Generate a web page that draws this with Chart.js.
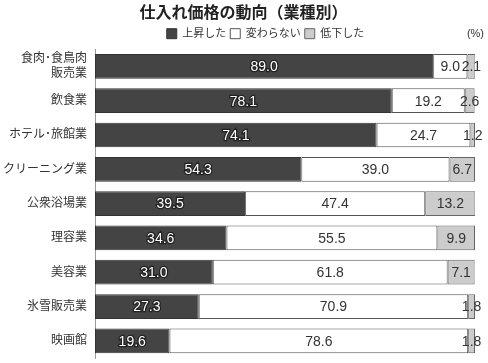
<!DOCTYPE html>
<html>
<head>
<meta charset="utf-8">
<script src="https://cdn.jsdelivr.net/npm/chart.js@4"></script>
<style>
  body { margin: 0; background: #fff; }
  #wrap { width: 488px; height: 363px; }
</style>
</head>
<body>
<div id="wrap"><canvas id="chart" width="488" height="363"></canvas></div>
<script>
const categories = [['食肉･食鳥肉', '販売業'], '飲食業', 'ホテル･旅館業', 'クリーニング業', '公衆浴場業', '理容業', '美容業', '氷雪販売業', '映画館'];
const seriesNames = ['上昇した', '変わらない', '低下した'];
const rose = [89.0, 78.1, 74.1, 54.3, 39.5, 34.6, 31.0, 27.3, 19.6];
const same = [9.0, 19.2, 24.7, 39.0, 47.4, 55.5, 61.8, 70.9, 78.6];
const fell = [2.1, 2.6, 1.2, 6.7, 13.2, 9.9, 7.1, 1.8, 1.8];

const FONT = "'Liberation Sans', 'Noto Sans CJK JP', sans-serif";

// numbers written in the middle of each segment
const valueLabels = {
  id: 'valueLabels',
  afterDatasetsDraw(chart) {
    const ctx = chart.ctx;
    ctx.save();
    ctx.font = '14px ' + FONT;
    ctx.textAlign = 'center';
    ctx.textBaseline = 'middle';
    chart.data.datasets.forEach((ds, i) => {
      const meta = chart.getDatasetMeta(i);
      meta.data.forEach((bar, j) => {
        const x = (bar.x + bar.base) / 2;
        const txt = ds.data[j].toFixed(1);
        if (i === 0) {
          ctx.lineWidth = 2.5;
          ctx.strokeStyle = '#222';
          ctx.strokeText(txt, x, bar.y + 1);
          ctx.fillStyle = '#fff';
          ctx.fillText(txt, x, bar.y + 1);
        } else {
          ctx.fillStyle = '#333';
          ctx.fillText(txt, x, bar.y + 1);
        }
      });
    });
    ctx.font = '11px ' + FONT;
    ctx.fillStyle = '#333';
    ctx.textAlign = 'right';
    ctx.fillText('(%)', 484, 34);
    ctx.restore();
  }
};

// move title and legend a bit to the right, as in the original
const headShift = {
  id: 'headShift',
  afterLayout(chart) {
    chart.legend.left += 28;
    chart.legend.right += 28;
    chart.titleBlock.left += 6;
    chart.titleBlock.right += 6;
  }
};

new Chart(document.getElementById('chart'), {
  type: 'bar',
  data: {
    labels: categories,
    datasets: [
      { label: seriesNames[0], data: rose, backgroundColor: '#444', borderColor: '#333' },
      { label: seriesNames[1], data: same, backgroundColor: '#fff', borderColor: '#555' },
      { label: seriesNames[2], data: fell, backgroundColor: '#ccc', borderColor: '#666' }
    ]
  },
  options: {
    indexAxis: 'y',
    responsive: false,
    animation: false,
    datasets: {
      bar: { borderWidth: 1, borderSkipped: false, barPercentage: 0.72, categoryPercentage: 1 }
    },
    layout: { padding: { left: 0, right: 13, top: 2, bottom: 5 } },
    scales: {
      x: { stacked: true, min: 0, max: 100, display: false },
      y: {
        stacked: true,
        grid: { display: false, drawTicks: false },
        border: { display: true, color: '#999', width: 1 },
        ticks: { autoSkip: false, color: '#333', font: { size: 12, family: FONT }, padding: 8 },
        afterFit: (scale) => {
          scale.width = 95;
          scale.paddingTop = 0;
          scale.paddingBottom = 0;
        }
      }
    },
    plugins: {
      title: {
        display: true,
        text: '仕入れ価格の動向（業種別）',
        color: '#222',
        font: { size: 16, weight: 'bold', family: FONT },
        padding: { top: 2, bottom: 1 }
      },
      legend: {
        position: 'top',
        labels: {
          boxWidth: 10,
          boxHeight: 10,
          padding: 4,
          color: '#333',
          font: { size: 11, family: FONT }
        }
      },
      tooltip: { enabled: false }
    }
  },
  plugins: [valueLabels, headShift]
});
</script>
</body>
</html>
